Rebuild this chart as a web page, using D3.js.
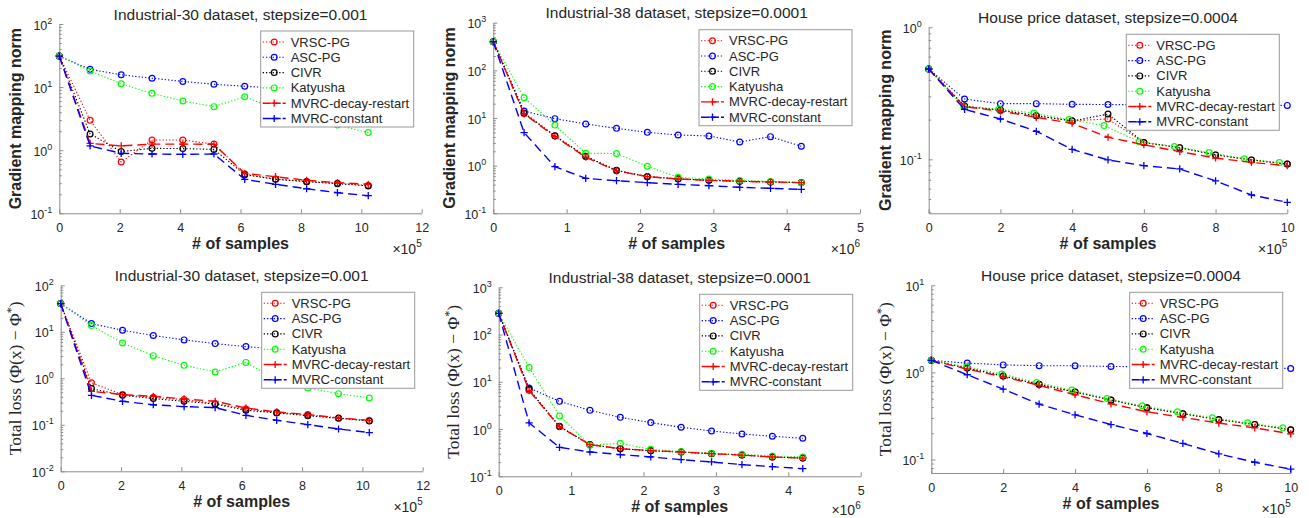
<!DOCTYPE html>
<html>
<head>
<meta charset="utf-8">
<script src="https://cdn.jsdelivr.net/npm/d3@7"></script>
<style>
  body { margin: 0; background: #fff; }
  svg text { font-family: "Liberation Sans", Arial, sans-serif; fill: #262626; }
</style>
</head>
<body>
<div id="chart"></div>
<script>
// Legend order of the methods
const methods = ["VRSC-PG", "ASC-PG", "CIVR", "Katyusha", "MVRC-decay-restart", "MVRC-constant"];

// Sample counts (in units of the axis multiplier)
const samplesInd30 = [0, 1.02, 2.05, 3.07, 4.09, 5.12, 6.14, 7.16, 8.19, 9.21, 10.23]; // x10^5
const samplesInd38 = [0, 0.42, 0.84, 1.26, 1.68, 2.10, 2.52, 2.94, 3.36, 3.78, 4.20];  // x10^6
const samplesHouse = [0, 1, 2, 3, 4, 5, 6, 7, 8, 9, 10];                              // x10^5
const samplesHouseKat = [0, 0.98, 1.96, 2.93, 3.91, 4.89, 5.87, 6.85, 7.82, 8.8, 9.78];

// Industrial-30, gradient mapping norm
const g30Vrsc  = [31, 2.97, 0.65, 1.45, 1.45, 1.25, 0.42, 0.35, 0.32, 0.30, 0.277];
const g30Asc   = [31, 19.1, 15.7, 13.8, 12.3, 11.1, 10.3, 9.7, 9.2, 8.8, 8.4];
const g30Civr  = [31, 1.81, 0.95, 1.07, 1.06, 1.03, 0.41, 0.345, 0.317, 0.295, 0.271];
const g30Kat   = [31, 18, 11.3, 7.96, 6.02, 4.9, 7.05, 4.5, 3.3, 2.5, 1.9];
const g30Mvrcd = [31, 1.28, 1.17, 1.25, 1.25, 1.24, 0.43, 0.38, 0.333, 0.306, 0.288];
const g30Mvrcc = [31, 1.17, 0.89, 0.87, 0.86, 0.87, 0.345, 0.288, 0.245, 0.212, 0.19];

// Industrial-38, gradient mapping norm
const g38Vrsc  = [399, 12.5, 4.19, 1.55, 0.785, 0.587, 0.525, 0.492, 0.469, 0.454, 0.44];
const g38Asc   = [399, 14, 9.7, 7.5, 6.07, 5.0, 4.4, 4.2, 3.14, 4.06, 2.55];
const g38Civr  = [399, 12.8, 4.25, 1.58, 0.8, 0.59, 0.53, 0.495, 0.47, 0.455, 0.442];
const g38Kat   = [399, 26.7, 7.1, 1.82, 1.8, 0.97, 0.57, 0.525, 0.49, 0.467, 0.44];
const g38Mvrcd = [399, 12.2, 4.1, 1.5, 0.78, 0.587, 0.525, 0.49, 0.469, 0.454, 0.44];
const g38Mvrcc = [399, 4.92, 0.95, 0.54, 0.484, 0.44, 0.405, 0.38, 0.351, 0.334, 0.318];

// House price, gradient mapping norm
const gHouseVrsc  = [0.483, 0.253, 0.234, 0.214, 0.196, 0.202, 0.134, 0.1226, 0.108, 0.099, 0.092];
const gHouseAsc   = [0.483, 0.286, 0.264, 0.264, 0.261, 0.26, 0.259, 0.258, 0.257, 0.257, 0.256];
const gHouseCivr  = [0.483, 0.253, 0.236, 0.214, 0.195, 0.22, 0.134, 0.1226, 0.108, 0.099, 0.092];
const gHouseKat   = [0.483, 0.25, 0.241, 0.224, 0.2, 0.18, 0.136, 0.125, 0.1124, 0.101, 0.0944];
const gHouseMvrcd = [0.483, 0.25, 0.232, 0.208, 0.1875, 0.147, 0.129, 0.1143, 0.1023, 0.0948, 0.0895];
const gHouseMvrcc = [0.483, 0.239, 0.202, 0.163, 0.119, 0.0989, 0.0895, 0.0845, 0.0686, 0.0537, 0.0472];

// Industrial-30, total loss
const l30Vrsc  = [40.4, 0.8, 0.446, 0.39, 0.348, 0.285, 0.219, 0.183, 0.166, 0.14, 0.123];
const l30Asc   = [40.4, 15, 10.8, 8.3, 6.7, 5.57, 4.8, 4.3, 3.9, 3.6, 3.3];
const l30Civr  = [40.4, 0.6, 0.43, 0.366, 0.32, 0.28, 0.205, 0.18, 0.157, 0.138, 0.121];
const l30Kat   = [40.4, 13.6, 5.75, 3.07, 1.9, 1.37, 2.2, 0.9, 0.62, 0.468, 0.378];
const l30Mvrcd = [40.4, 0.525, 0.446, 0.41, 0.36, 0.32, 0.23, 0.189, 0.166, 0.14, 0.125];
const l30Mvrcc = [40.4, 0.43, 0.32, 0.27, 0.246, 0.234, 0.16, 0.125, 0.101, 0.0813, 0.068];

// Industrial-38, total loss
const l38Vrsc  = [282, 6.6, 1.14, 0.468, 0.385, 0.35, 0.327, 0.302, 0.283, 0.257, 0.244];
const l38Asc   = [282, 7.4, 3.86, 2.49, 1.77, 1.37, 1.09, 0.91, 0.787, 0.703, 0.637];
const l38Civr  = [282, 7.0, 1.13, 0.47, 0.383, 0.348, 0.325, 0.3, 0.282, 0.256, 0.243];
const l38Kat   = [282, 20, 1.89, 0.453, 0.5, 0.372, 0.333, 0.307, 0.292, 0.27, 0.257];
const l38Mvrcd = [282, 6.5, 1.12, 0.468, 0.385, 0.35, 0.327, 0.302, 0.28, 0.257, 0.242];
const l38Mvrcc = [282, 1.35, 0.41, 0.327, 0.288, 0.257, 0.225, 0.201, 0.177, 0.16, 0.145];

// House price, total loss
const lHouseVrsc  = [1.375, 1.12, 0.908, 0.728, 0.594, 0.481, 0.392, 0.335, 0.286, 0.252, 0.219];
const lHouseAsc   = [1.375, 1.28, 1.22, 1.195, 1.19, 1.17, 1.16, 1.15, 1.14, 1.13, 1.11];
const lHouseCivr  = [1.375, 1.12, 0.91, 0.73, 0.595, 0.483, 0.393, 0.336, 0.287, 0.253, 0.22];
const lHouseKat   = [1.375, 1.16, 0.957, 0.767, 0.627, 0.502, 0.414, 0.353, 0.301, 0.264, 0.231];
const lHouseMvrcd = [1.375, 1.09, 0.89, 0.71, 0.554, 0.436, 0.353, 0.304, 0.262, 0.231, 0.197];
const lHouseMvrcc = [1.375, 0.94, 0.643, 0.432, 0.326, 0.252, 0.199, 0.153, 0.116, 0.093, 0.0774];

// Line style per method
const styles = [
  { color: "#ff0000", dash: "1.3,2", marker: "o", width: 1.1 },
  { color: "#0000ff", dash: "1.3,2", marker: "o", width: 1.1 },
  { color: "#000000", dash: "1.3,2", marker: "o", width: 1.1 },
  { color: "#00ff00", dash: "1.3,2", marker: "o", width: 1.1 },
  { color: "#ff0000", dash: "9,5", marker: "+", width: 1.4 },
  { color: "#0000ff", dash: "9,5", marker: "+", width: 1.4 }
];

const panels = [
  { title: "Industrial-30 dataset, stepsize=0.001", kind: "grad", exp: 5,
    xs: [samplesInd30, samplesInd30, samplesInd30, samplesInd30, samplesInd30, samplesInd30],
    ys: [g30Vrsc, g30Asc, g30Civr, g30Kat, g30Mvrcd, g30Mvrcc],
    xMax: 12, xTicks: [0, 2, 4, 6, 8, 10, 12], yDomain: [0.1, 100],
    box: { x0: 59.3, x1: 421.7, y0: 24, y1: 213.3 } },
  { title: "Industrial-38 dataset, stepsize=0.0001", kind: "grad", exp: 6,
    xs: [samplesInd38, samplesInd38, samplesInd38, samplesInd38, samplesInd38, samplesInd38],
    ys: [g38Vrsc, g38Asc, g38Civr, g38Kat, g38Mvrcd, g38Mvrcc],
    xMax: 5, xTicks: [0, 1, 2, 3, 4, 5], yDomain: [0.1, 1000],
    box: { x0: 493.3, x1: 860, y0: 22.7, y1: 213.3 } },
  { title: "House price dataset, stepsize=0.0004", kind: "grad", exp: 5,
    xs: [samplesHouse, samplesHouse, samplesHouse, samplesHouseKat, samplesHouse, samplesHouse],
    ys: [gHouseVrsc, gHouseAsc, gHouseCivr, gHouseKat, gHouseMvrcd, gHouseMvrcc],
    xMax: 10, xTicks: [0, 2, 4, 6, 8, 10], yDomain: [0.039, 1],
    box: { x0: 928.7, x1: 1287.3, y0: 27.3, y1: 213.3 } },
  { title: "Industrial-30 dataset, stepsize=0.001", kind: "loss", exp: 5,
    xs: [samplesInd30, samplesInd30, samplesInd30, samplesInd30, samplesInd30, samplesInd30],
    ys: [l30Vrsc, l30Asc, l30Civr, l30Kat, l30Mvrcd, l30Mvrcc],
    xMax: 12, xTicks: [0, 2, 4, 6, 8, 10, 12], yDomain: [0.01, 100],
    box: { x0: 60.7, x1: 422.7, y0: 285.3, y1: 471.3 } },
  { title: "Industrial-38 dataset, stepsize=0.0001", kind: "loss", exp: 6,
    xs: [samplesInd38, samplesInd38, samplesInd38, samplesInd38, samplesInd38, samplesInd38],
    ys: [l38Vrsc, l38Asc, l38Civr, l38Kat, l38Mvrcd, l38Mvrcc],
    xMax: 5, xTicks: [0, 1, 2, 3, 4, 5], yDomain: [0.1, 1000],
    box: { x0: 498.7, x1: 860.7, y0: 287.3, y1: 476.3 } },
  { title: "House price dataset, stepsize=0.0004", kind: "loss", exp: 5,
    xs: [samplesHouse, samplesHouse, samplesHouse, samplesHouseKat, samplesHouse, samplesHouse],
    ys: [lHouseVrsc, lHouseAsc, lHouseCivr, lHouseKat, lHouseMvrcd, lHouseMvrcc],
    xMax: 10, xTicks: [0, 2, 4, 6, 8, 10], yDomain: [0.07, 10],
    box: { x0: 931.3, x1: 1290.7, y0: 285.3, y1: 473 } }
];

const svg = d3.select("#chart").append("svg")
  .attr("width", 1309)
  .attr("height", 518);

function drawMarker(g, type, cx, cy, color) {
  if (type === "o") {
    g.append("circle").attr("cx", cx).attr("cy", cy).attr("r", 2.9)
      .attr("fill", "none").attr("stroke", color).attr("stroke-width", 1.2);
  } else {
    g.append("path").attr("d", `M${cx - 3.6},${cy}H${cx + 3.6}M${cx},${cy - 3.6}V${cy + 3.6}`)
      .attr("stroke", color).attr("stroke-width", 1.3);
  }
}

panels.forEach(p => {
  const b = p.box;
  const g = svg.append("g");
  const x = d3.scaleLinear().domain([0, p.xMax]).range([b.x0, b.x1]);
  const y = d3.scaleLog().domain(p.yDomain).range([b.y1, b.y0]);

  // Major and minor log ticks
  const allTicks = y.ticks();
  const majors = allTicks.filter(v => Math.abs(Math.log10(v) - Math.round(Math.log10(v))) < 1e-9);
  const minors = allTicks.filter(v => !majors.includes(v));

  // minor ticks first
  g.append("g").attr("transform", `translate(${b.x0},0)`)
    .call(d3.axisLeft(y).tickValues(minors).tickSizeInner(-2.5).tickSizeOuter(0).tickFormat(""))
    .call(a => a.select(".domain").remove())
    .selectAll("line").attr("stroke", "#8c8c8c");

  const ya = g.append("g").attr("transform", `translate(${b.x0},0)`)
    .call(d3.axisLeft(y).tickValues(majors).tickSizeInner(-4).tickSizeOuter(0));
  ya.select(".domain").attr("stroke", "#8c8c8c");
  ya.selectAll("line").attr("stroke", "#8c8c8c");
  ya.selectAll(".tick text").each(function(d) {
    const t = d3.select(this);
    t.text(null).attr("x", -7).attr("dy", null).attr("y", 5)
      .attr("font-size", 12.5).attr("fill", "#262626");
    t.append("tspan").text("10");
    t.append("tspan").attr("dy", -6).attr("font-size", 9).text(String(Math.round(Math.log10(d))));
  });

  const xa = g.append("g").attr("transform", `translate(0,${b.y1})`)
    .call(d3.axisBottom(x).tickValues(p.xTicks).tickSizeInner(-4).tickSizeOuter(0)
      .tickFormat(d3.format("d")));
  xa.select(".domain").attr("stroke", "#8c8c8c");
  xa.selectAll("line").attr("stroke", "#8c8c8c");
  xa.selectAll(".tick text").attr("y", 18.5).attr("dy", null)
    .attr("font-size", 12.5).attr("fill", "#262626");

  // x multiplier
  const mult = g.append("text").attr("x", b.x1).attr("y", Math.min(b.y1 + 40.5, 515))
    .attr("text-anchor", "end").attr("font-size", 14).attr("fill", "#444");
  mult.append("tspan").text("\u00d710");
  mult.append("tspan").attr("dy", -6.5).attr("font-size", 10).text(p.exp);

  // title
  g.append("text").attr("x", (b.x0 + b.x1) / 2).attr("y", b.y0 - 4.5)
    .attr("text-anchor", "middle").attr("font-size", 15.5).attr("fill", "#1a1a1a")
    .text(p.title);

  // x label
  g.append("text").attr("x", (b.x0 + b.x1) / 2).attr("y", b.y1 + 35.5)
    .attr("text-anchor", "middle").attr("font-size", 16).attr("font-weight", "bold")
    .attr("fill", "#1a1a1a").text("# of samples");

  // y label
  const ly = (b.y0 + b.y1) / 2;
  if (p.kind === "grad") {
    g.append("text").attr("transform", `translate(${b.x0 - 38},${ly}) rotate(-90)`)
      .attr("text-anchor", "middle").attr("font-size", 16).attr("font-weight", "bold")
      .attr("fill", "#1a1a1a").text("Gradient mapping norm");
  } else {
    const t = g.append("text").attr("transform", `translate(${b.x0 - 40},${ly}) rotate(-90)`)
      .attr("text-anchor", "middle").attr("font-size", 17.5)
      .style("font-family", "'Liberation Serif', 'Times New Roman', serif")
      .attr("fill", "#1a1a1a");
    t.append("tspan").text("Total loss (\u03a6(x) \u2212 \u03a6");
    t.append("tspan").attr("dy", -6).attr("font-size", 12).text("*");
    t.append("tspan").attr("dy", 6).text(")");
  }

  // series
  const line = d3.line().x(d => x(d[0])).y(d => y(d[1]));
  styles.forEach((s, i) => {
    const pts = p.xs[i].map((v, k) => [v, p.ys[i][k]]);
    g.append("path").datum(pts).attr("d", line)
      .attr("fill", "none").attr("stroke", s.color)
      .attr("stroke-width", s.width).attr("stroke-dasharray", s.dash);
    const mg = g.append("g");
    pts.forEach(d => drawMarker(mg, s.marker, x(d[0]), y(d[1]), s.color));
  });

  // legend
  const lw = 153, lh = 96;
  const lx = b.x1 - 8 - lw, lt = b.y0 + 7;
  const lg = g.append("g");
  lg.append("rect").attr("x", lx).attr("y", lt).attr("width", lw).attr("height", lh)
    .attr("fill", "#fff").attr("stroke", "#999").attr("stroke-width", 1);
  methods.forEach((m, i) => {
    const ry = lt + 11 + i * 15.3;
    const s = styles[i];
    lg.append("line").attr("x1", lx + 2).attr("x2", lx + 25).attr("y1", ry).attr("y2", ry)
      .attr("stroke", s.color).attr("stroke-width", s.width)
      .attr("stroke-dasharray", s.marker === "o" ? s.dash : "8,2");
    drawMarker(lg, s.marker, lx + 13.5, ry, s.color);
    lg.append("text").attr("x", lx + 30).attr("y", ry + 4.5)
      .attr("font-size", 13).attr("fill", "#111").text(m);
  });
});
</script>
</body>
</html>
